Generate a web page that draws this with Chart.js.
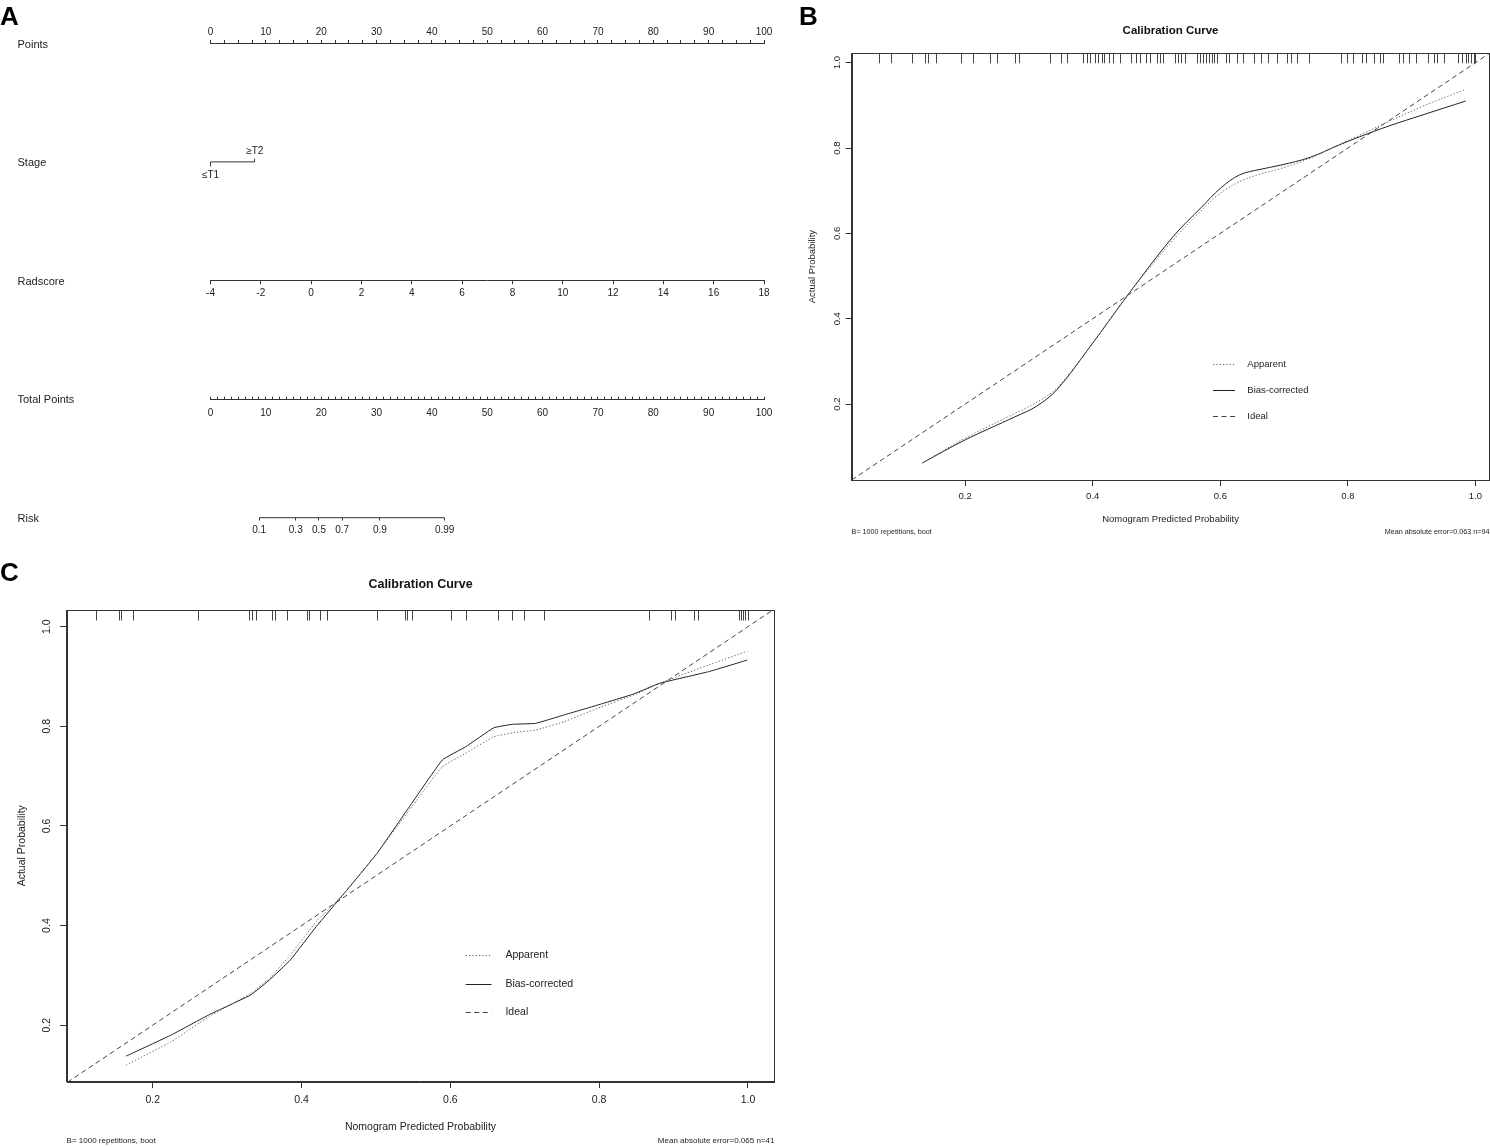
<!DOCTYPE html>
<html>
<head>
<meta charset="utf-8">
<title>Nomogram and calibration curves</title>
<script src="https://cdn.jsdelivr.net/npm/chart.js@4.4.1/dist/chart.umd.min.js"></script>
<style>
  body { margin: 0; background: #fff; }
  #page { position: relative; width: 1490px; height: 1147px; overflow: hidden; }
  canvas { position: absolute; }
  .panel { position: absolute; font: bold 26px/26px "Liberation Sans", Arial, sans-serif; color: #000; }
</style>
</head>
<body>
<div id="page">
  <canvas id="nomogram" width="800" height="555" style="left:0px;top:0px"></canvas>
  <canvas id="calTrain" width="690" height="545" style="left:800px;top:0px"></canvas>
  <canvas id="calTest" width="790" height="592" style="left:0px;top:555px"></canvas>
  <div class="panel" style="left:0px;top:3px">A</div>
  <div class="panel" style="left:799px;top:3px">B</div>
  <div class="panel" style="left:0px;top:559px">C</div>
</div>
<script>
// ---- panel A: nomogram ----
var rowNames = ["Points", "Stage", "Radscore", "Total Points", "Risk"];
var stageLevels = ["≤T1", "≥T2"];
var stagePoints = [0, 8];
var riskLabels = [0.1, 0.3, 0.5, 0.7, 0.9, 0.99];
var riskTotalPoints = [8.8, 15.4, 19.6, 23.8, 30.6, 42.3];

// ---- panels B and C: calibration curves ----
var probTicks = [0.2, 0.4, 0.6, 0.8, 1.0];
var idealLine = [0, 1.1];

var predB = [0.133, 0.200, 0.278, 0.311, 0.3435, 0.3956, 0.4607, 0.5257, 0.571, 0.600,
  0.630, 0.6625, 0.695, 0.7405, 0.786, 0.8186, 0.864, 0.916, 0.9845];
var apparentB = [0.062, 0.120, 0.178, 0.203, 0.237, 0.334, 0.467, 0.584, 0.655, 0.694,
  0.721, 0.739, 0.752, 0.776, 0.808, 0.830, 0.862, 0.897, 0.9375];
var biasB = [0.062, 0.116, 0.170, 0.194, 0.233, 0.334, 0.467, 0.592, 0.662, 0.7055,
  0.737, 0.750, 0.760, 0.778, 0.807, 0.8265, 0.8515, 0.877, 0.910];
var rugB = [0.0651, 0.0833, 0.1171, 0.1366, 0.1418, 0.1536, 0.1939, 0.2121, 0.2394, 0.2492,
  0.2785, 0.2837, 0.3325, 0.3501, 0.3598, 0.3846, 0.3904, 0.3956, 0.4034, 0.4086,
  0.4138, 0.4184, 0.4249, 0.4314, 0.4425, 0.4607, 0.4672, 0.4737, 0.4835, 0.4900,
  0.5010, 0.5062, 0.5095, 0.5290, 0.5336, 0.5388, 0.5453, 0.5629, 0.5681, 0.5726,
  0.5778, 0.5824, 0.5863, 0.5908, 0.5954, 0.6091, 0.6136, 0.6266, 0.6351, 0.6527,
  0.6637, 0.6754, 0.6884, 0.7047, 0.7112, 0.7197, 0.7392, 0.7893, 0.7990, 0.8088,
  0.8218, 0.8283, 0.8413, 0.8511, 0.8557, 0.8804, 0.8869, 0.8954, 0.9064, 0.9259,
  0.9344, 0.9390, 0.9500, 0.9734, 0.9793, 0.9845, 0.9890, 0.9929, 0.9975, 0.9995];

var predC = [0.1643, 0.2251, 0.2754, 0.3318, 0.357, 0.385, 0.4198, 0.4575, 0.5015, 0.545,
  0.5893, 0.6207, 0.6583, 0.6835, 0.7148, 0.7525, 0.8027, 0.8466, 0.8812, 0.947, 0.9992];
var apparentC = [0.120, 0.167, 0.217, 0.264, 0.294, 0.341, 0.408, 0.465, 0.545, 0.632,
  0.719, 0.746, 0.779, 0.787, 0.7926, 0.809, 0.839, 0.8628, 0.8863, 0.923, 0.951];
var biasC = [0.138, 0.1805, 0.2207, 0.2608, 0.291, 0.331, 0.398, 0.465, 0.545, 0.6387,
  0.7324, 0.759, 0.797, 0.804, 0.806, 0.8227, 0.8448, 0.865, 0.8863, 0.9097, 0.933];
var rugC = [0.1235, 0.1543, 0.1574, 0.1731, 0.2615, 0.3300, 0.3337, 0.3382, 0.3607, 0.3640,
  0.3809, 0.4073, 0.4104, 0.4242, 0.4349, 0.5015, 0.5391, 0.5422, 0.5485, 0.6005,
  0.6207, 0.6634, 0.6835, 0.6992, 0.7262, 0.8668, 0.8969, 0.9020, 0.9270, 0.9333,
  0.9875, 0.9905, 0.9930, 0.9960, 0.9995];

var footerLeft = "B= 1000 repetitions, boot";
var footerB = "Mean absolute error=0.063 n=94";
var footerC = "Mean absolute error=0.065 n=41";

var fontFamily = '"Liberation Sans", Arial, sans-serif';
var ink = "#333";

Chart.defaults.font.family = fontFamily;
Chart.defaults.color = "#222";
Chart.defaults.animation = false;

function fixedTicks(values) {
  return function (axis) {
    axis.ticks = values.map(function (v) { return { value: v }; });
  };
}

function nomoGrid(len) {
  return { display: true, drawOnChartArea: false, drawTicks: true, tickLength: len, tickColor: ink, tickWidth: 1 };
}

function noHeight(axis) { axis.height = 0; }

function everyTen(v) {
  return Math.abs(v % 10) < 1e-6 ? String(v) : "";
}

function rowAxis(row, opts) {
  var axis = {
    type: "linear",
    axis: "x",
    position: { y: row },
    min: 0,
    max: 100,
    afterFit: noHeight,
    border: { display: false },
    ticks: { autoSkip: false, maxRotation: 0, minRotation: 0, font: { size: 10 } }
  };
  Object.keys(opts).forEach(function (k) {
    if (k === "ticks") Object.assign(axis.ticks, opts.ticks);
    else axis[k] = opts[k];
  });
  return axis;
}

new Chart(document.getElementById("nomogram"), {
  type: "scatter",
  data: {
    datasets: [
      {
        label: "Stage",
        xAxisID: "stageLo",
        yAxisID: "y",
        showLine: true,
        data: stagePoints.map(function (p) { return { x: p, y: 1 }; }),
        borderColor: ink,
        borderWidth: 1,
        pointRadius: 0,
        clip: false
      },
      {
        label: "Risk",
        xAxisID: "risk",
        yAxisID: "y",
        showLine: true,
        data: [
          { x: riskTotalPoints[0], y: 4 },
          { x: riskTotalPoints[riskTotalPoints.length - 1], y: 4 }
        ],
        borderColor: ink,
        borderWidth: 1,
        pointRadius: 0,
        clip: false
      }
    ]
  },
  options: {
    responsive: false,
    events: [],
    layout: { padding: { left: 17.5, right: 36, top: 0, bottom: 37.3 } },
    plugins: { legend: { display: false }, tooltip: { enabled: false } },
    scales: {
      y: {
        type: "linear",
        axis: "y",
        position: "left",
        min: 0,
        max: 4,
        reverse: true,
        afterBuildTicks: fixedTicks([0.01, 1.01, 2.01, 3.01, 4.01]),
        afterFit: function (axis) { axis.width = 193; },
        grid: { display: false },
        border: { display: false },
        ticks: {
          crossAlign: "far",
          font: { size: 11 },
          callback: function (v, i) { return rowNames[i]; }
        }
      },
      x: {
        type: "linear",
        axis: "x",
        position: "top",
        min: 0,
        max: 100,
        afterFit: function (axis) { axis.height = 43.3; },
        grid: nomoGrid(3.3),
        border: { color: ink },
        ticks: { stepSize: 2.5, autoSkip: false, maxRotation: 0, padding: 2, font: { size: 10 }, callback: everyTen }
      },
      stageLo: rowAxis(1, {
        afterBuildTicks: fixedTicks([stagePoints[0]]),
        grid: nomoGrid(4.4),
        ticks: { padding: 3.3, callback: function () { return stageLevels[0]; } }
      }),
      stageHi: rowAxis(1, {
        afterBuildTicks: fixedTicks([stagePoints[1]]),
        grid: nomoGrid(-3.3),
        ticks: { padding: -13, callback: function () { return stageLevels[1]; } }
      }),
      radscore: rowAxis(2, {
        min: -4,
        max: 18,
        grid: nomoGrid(3.3),
        border: { color: ink },
        ticks: { stepSize: 2, padding: 3.3 }
      }),
      total: rowAxis(3, {
        grid: nomoGrid(-3.3),
        border: { color: ink },
        ticks: { stepSize: 1.25, padding: 11.3, callback: everyTen }
      }),
      risk: rowAxis(4, {
        afterBuildTicks: fixedTicks(riskTotalPoints),
        grid: nomoGrid(2.5),
        ticks: { padding: 3.8, callback: function (v, i) { return String(riskLabels[i]); } }
      })
    }
  }
});

// ---- calibration helpers ----
var framePlugin = {
  id: "frame",
  afterDraw: function (chart) {
    var a = chart.chartArea, ctx = chart.ctx;
    ctx.save();
    ctx.strokeStyle = ink;
    ctx.lineWidth = 1;
    ctx.strokeRect(Math.round(a.left) + 0.5, Math.round(a.top) + 0.5,
      Math.round(a.right - a.left) - 1, Math.round(a.bottom - a.top));
    ctx.restore();
  }
};

var rugPlugin = {
  id: "rug",
  afterDatasetsDraw: function (chart, args, opts) {
    var ctx = chart.ctx, top = chart.chartArea.top, xs = chart.scales.x;
    ctx.save();
    ctx.strokeStyle = "#444";
    ctx.lineWidth = 1;
    opts.values.forEach(function (v) {
      var px = Math.round(xs.getPixelForValue(v)) + 0.5;
      ctx.beginPath();
      ctx.moveTo(px, top);
      ctx.lineTo(px, top + opts.length);
      ctx.stroke();
    });
    ctx.restore();
  }
};

var legendPlugin = {
  id: "calLegend",
  afterDatasetsDraw: function (chart, args, opts) {
    var ctx = chart.ctx;
    var x0 = chart.scales.x.getPixelForValue(opts.x);
    var y0 = chart.scales.y.getPixelForValue(opts.y);
    ctx.save();
    ctx.font = opts.size + "px " + fontFamily;
    ctx.textBaseline = "middle";
    ctx.textAlign = "left";
    chart.data.datasets.forEach(function (ds, i) {
      var y = Math.round(y0 + i * opts.gap) + 0.5;
      ctx.beginPath();
      ctx.setLineDash(ds.borderDash || []);
      ctx.strokeStyle = ds.borderColor;
      ctx.lineWidth = ds.borderWidth;
      ctx.moveTo(x0, y);
      ctx.lineTo(x0 + opts.line, y);
      ctx.stroke();
      ctx.setLineDash([]);
      ctx.fillStyle = "#222";
      ctx.fillText(ds.label, x0 + opts.line + opts.space, y);
    });
    ctx.restore();
  }
};

var footerPlugin = {
  id: "calFooter",
  afterDraw: function (chart, args, opts) {
    var ctx = chart.ctx, a = chart.chartArea;
    ctx.save();
    ctx.font = opts.size + "px " + fontFamily;
    ctx.fillStyle = "#222";
    ctx.textBaseline = "middle";
    ctx.textAlign = "left";
    ctx.fillText(opts.left, a.left, opts.y);
    ctx.textAlign = "right";
    ctx.fillText(opts.right, a.right, opts.y);
    ctx.restore();
  }
};

function calibrationChart(id, pred, apparent, bias, rug, footerRight, look) {
  return new Chart(document.getElementById(id), {
    type: "scatter",
    data: {
      datasets: [
        {
          label: "Apparent",
          data: pred.map(function (x, i) { return { x: x, y: apparent[i] }; }),
          showLine: true,
          borderColor: "#666",
          borderWidth: 1,
          borderDash: [1.3, 2],
          pointRadius: 0,
          tension: look.tension
        },
        {
          label: "Bias-corrected",
          data: pred.map(function (x, i) { return { x: x, y: bias[i] }; }),
          showLine: true,
          borderColor: "#222",
          borderWidth: 1,
          borderDash: [],
          pointRadius: 0,
          tension: look.tension
        },
        {
          label: "Ideal",
          data: idealLine.map(function (v) { return { x: v, y: v }; }),
          showLine: true,
          borderColor: "#444",
          borderWidth: 1,
          borderDash: [5, 3.5],
          pointRadius: 0
        }
      ]
    },
    options: {
      responsive: false,
      events: [],
      layout: { padding: { left: 0, top: 0, right: look.padRight, bottom: look.padBottom } },
      plugins: {
        legend: { display: false },
        tooltip: { enabled: false },
        title: {
          display: true,
          text: "Calibration Curve",
          fullSize: false,
          color: "#111",
          font: { size: look.titleSize, weight: "bold" },
          padding: { top: look.titleTop, bottom: look.titleBottom }
        },
        rug: { values: rug, length: look.rugLen },
        calLegend: look.legend,
        calFooter: { left: footerLeft, right: footerRight, y: look.footerY, size: look.footerSize }
      },
      scales: {
        x: {
          type: "linear",
          axis: "x",
          position: "bottom",
          min: look.xRange[0],
          max: look.xRange[1],
          afterBuildTicks: fixedTicks(probTicks),
          afterFit: function (axis) { axis.height = look.xHeight; },
          grid: { drawOnChartArea: false, tickLength: look.tickLen, tickColor: ink },
          border: { color: ink },
          ticks: {
            autoSkip: false,
            maxRotation: 0,
            padding: look.xPad,
            font: { size: look.tickSize },
            callback: function (v) { return v.toFixed(1); }
          },
          title: {
            display: true,
            text: "Nomogram Predicted Probability",
            font: { size: look.labelSize },
            padding: { top: 0, bottom: 4 }
          }
        },
        y: {
          type: "linear",
          axis: "y",
          position: "left",
          min: look.yRange[0],
          max: look.yRange[1],
          afterBuildTicks: fixedTicks(probTicks),
          afterFit: function (axis) { axis.width = look.yWidth; },
          grid: { drawOnChartArea: false, tickLength: look.tickLen, tickColor: ink },
          border: { color: ink },
          ticks: {
            minRotation: 90,
            maxRotation: 90,
            crossAlign: "center",
            padding: look.yPad,
            font: { size: look.tickSize },
            callback: function (v) { return v.toFixed(1); }
          },
          title: {
            display: true,
            text: "Actual Probability",
            font: { size: look.labelSize },
            padding: { top: look.yTitlePad, bottom: 0 }
          }
        }
      }
    },
    plugins: [framePlugin, rugPlugin, legendPlugin, footerPlugin]
  });
}

calibrationChart("calTrain", predB, apparentB, biasB, rugB, footerB, {
  xRange: [0.022, 1.022], yRange: [0.022, 1.022],
  padRight: 0.5, padBottom: 15.8,
  titleSize: 11.5, titleTop: 24.1, titleBottom: 15.4,
  tickSize: 9.5, labelSize: 9.5, tickLen: 6,
  xPad: 4.3, yPad: 1.5, yTitlePad: 6.3, xHeight: 49.2, yWidth: 51.6,
  rugLen: 10, tension: 0.35,
  legend: { x: 0.5886, y: 0.293, gap: 26, line: 22, space: 12.3, size: 9.5 },
  footerY: 532.3, footerSize: 7.2
});

calibrationChart("calTest", predC, apparentC, biasC, rugC, footerC, {
  xRange: [0.0843, 1.0355], yRange: [0.087, 1.0335],
  padRight: 15.6, padBottom: 10,
  titleSize: 12.5, titleTop: 22.5, titleBottom: 17.5,
  tickSize: 10.5, labelSize: 10.5, tickLen: 6.5,
  xPad: 5.7, yPad: 5.8, yTitlePad: 15.7, xHeight: 55.5, yWidth: 66.6,
  rugLen: 10.5, tension: 0.1,
  legend: { x: 0.6207, y: 0.341, gap: 28.7, line: 25.7, space: 14, size: 10.5 },
  footerY: 585.7, footerSize: 8
});
</script>
</body>
</html>
